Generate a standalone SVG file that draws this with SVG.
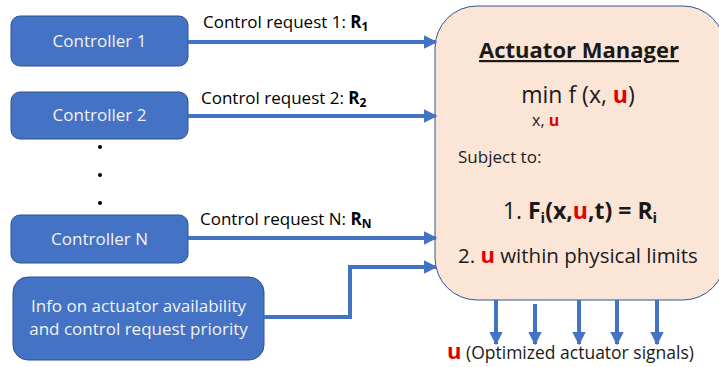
<svg xmlns="http://www.w3.org/2000/svg" width="719" height="367" viewBox="0 0 719 367">
  <defs>
    <marker id="head" viewBox="0 0 10 10" refX="9" refY="5" markerWidth="3.4" markerHeight="3.4" orient="auto" markerUnits="strokeWidth">
      <path d="M0,0 L10,5 L0,10 Z" fill="#4472C4"/>
    </marker>
    <style>
      .box { fill: #4472C4; stroke: #2F528F; stroke-width: 1; }
      .boxtxt { font-family: "Open Sans", "Lato", sans-serif; font-size: 17px; fill: #F2F2F2; text-anchor: middle; }
      .lbl { font-family: "Open Sans", "Lato", sans-serif; font-size: 17px; fill: #000; }
      .conn { fill: none; stroke: #4472C4; stroke-width: 4; marker-end: url(#head); }
      .mgr { font-family: "Open Sans", "Lato", sans-serif; fill: #1a1a1a; }
      .red { fill: #E00000; font-weight: bold; }
    </style>
  </defs>

  <g id="controller-1">
    <rect class="box" x="11" y="16" width="177" height="50" rx="9"/>
    <text class="boxtxt" x="99.5" y="47">Controller 1</text>
  </g>
  <g id="controller-2">
    <rect class="box" x="11" y="92" width="177" height="47" rx="9"/>
    <text class="boxtxt" x="99.5" y="121">Controller 2</text>
  </g>
  <g id="ellipsis">
    <circle cx="100" cy="147" r="2" fill="#000"/>
    <circle cx="100" cy="175" r="2" fill="#000"/>
    <circle cx="100" cy="203" r="2" fill="#000"/>
  </g>
  <g id="controller-n">
    <rect class="box" x="11" y="215" width="177" height="48" rx="9"/>
    <text class="boxtxt" x="99.5" y="245">Controller N</text>
  </g>
  <g id="info">
    <rect class="box" x="13" y="277" width="251" height="83" rx="15"/>
    <text class="boxtxt" x="138.5" y="312" font-size="16.5">Info on actuator availability</text>
    <text class="boxtxt" x="138.5" y="335" font-size="16.5">and control request priority</text>
  </g>

  <g id="actuator-manager">
    <rect x="435" y="6" width="290" height="294" rx="42" fill="#FBE5D6" stroke="#2F5597" stroke-width="1"/>
    <text class="mgr" x="579" y="58" font-size="22" font-weight="bold" text-anchor="middle" text-decoration="underline">Actuator Manager</text>
    <text class="mgr" x="578" y="103" font-size="23" text-anchor="middle">min f (x, <tspan class="red">u</tspan>)</text>
    <text class="mgr" x="532" y="126" font-size="16">x, <tspan class="red">u</tspan></text>
    <text class="mgr" x="458" y="163" font-size="17">Subject to:</text>
    <text class="mgr" x="580" y="219" font-size="23" text-anchor="middle">1. <tspan font-weight="bold">F<tspan font-size="15" dy="4">i</tspan><tspan dy="-4">(x,</tspan><tspan class="red">u</tspan>,t) = R<tspan font-size="15" dy="4">i</tspan></tspan></text>
    <text class="mgr" x="458" y="263" font-size="20.5">2. <tspan class="red" font-size="22">u</tspan> within physical limits</text>
  </g>

  <g id="connectors">
    <path class="conn" d="M188,42 H436"/>
    <path class="conn" d="M188,116 H436"/>
    <path class="conn" d="M188,238 H436"/>
    <path class="conn" d="M264,317 H350 V267 H436"/>
    <path class="conn" d="M496,300 V344"/>
    <path class="conn" d="M535,304 V344"/>
    <path class="conn" d="M579,300 V344"/>
    <path class="conn" d="M617,300 V344"/>
    <path class="conn" d="M657,300 V344"/>
  </g>

  <g id="labels">
    <text class="lbl" x="203" y="28">Control request 1: <tspan font-weight="bold">R<tspan font-size="12" dy="3">1</tspan></tspan></text>
    <text class="lbl" x="201" y="104">Control request 2: <tspan font-weight="bold">R<tspan font-size="12" dy="3">2</tspan></tspan></text>
    <text class="lbl" x="200" y="225">Control request N: <tspan font-weight="bold">R<tspan font-size="12" dy="3">N</tspan></tspan></text>
    <text class="mgr" x="447" y="359" font-size="17.5"><tspan class="red" font-size="22">u</tspan> (Optimized actuator signals)</text>
  </g>
</svg>
